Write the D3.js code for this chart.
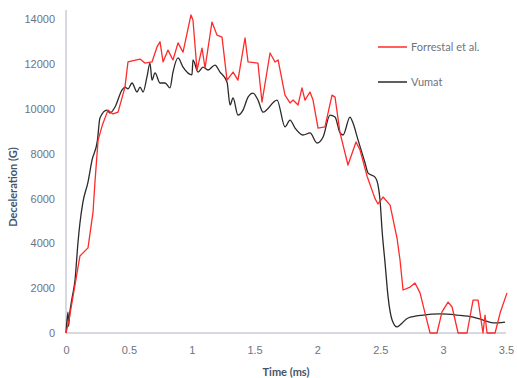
<!DOCTYPE html>
<html><head><meta charset="utf-8">
<script src="https://cdn.jsdelivr.net/npm/d3@7"></script>
<style>
html,body{margin:0;padding:0;background:#fff;}
svg{display:block;font-family:Lato,"Open Sans",sans-serif;}
</style></head>
<body><svg id="chart" width="517" height="378"></svg>
<script>
const seriesNames = ["Forrestal et al.", "Vumat"];
const seriesColors = ["#ff2a2a", "#2a2a2a"];
const xTicks = [0, 0.5, 1, 1.5, 2, 2.5, 3, 3.5];
const yTicks = [0, 2000, 4000, 6000, 8000, 10000, 12000, 14000];

const forrestalT = [0,0.024,0.111,0.175,0.215,0.231,0.255,0.29,0.334,0.374,0.414,0.469,0.493,0.589,0.628,0.684,0.724,0.748,0.772,0.811,0.851,0.891,0.931,0.994,1.010,1.042,1.082,1.106,1.161,1.201,1.241,1.281,1.329,1.368,1.424,1.448,1.527,1.543,1.559,1.623,1.663,1.687,1.742,1.782,1.806,1.846,1.877,1.901,1.941,1.965,2.005,2.060,2.116,2.140,2.180,2.243,2.307,2.339,2.395,2.458,2.482,2.522,2.578,2.633,2.657,2.681,2.737,2.776,2.816,2.856,2.896,2.951,2.991,3.039,3.071,3.119,3.190,3.238,3.278,3.317,3.333,3.349,3.413,3.453,3.508];
const forrestalV = [0,580,3440,3800,5400,6800,8600,9300,9950,9780,9860,10980,12100,12230,12050,12100,12770,13000,12100,12630,12190,12950,12540,14200,13970,11740,12720,11830,13880,13300,13210,11290,11650,11290,13170,12100,12050,11160,10310,12500,12100,12190,10620,10270,10400,10180,10940,10400,10760,10400,9150,9200,10620,10530,8930,7500,8530,8170,7000,6000,5760,6070,5710,4240,3260,1920,2050,2230,1790,890,0,0,940,1380,1160,0,0,1470,1470,0,800,0,0,890,1790];

const vumatT = [0,0.016,0.02,0.03,0.048,0.072,0.095,0.111,0.135,0.175,0.207,0.25,0.27,0.326,0.350,0.390,0.446,0.469,0.493,0.525,0.565,0.589,0.613,0.644,0.668,0.684,0.708,0.748,0.788,0.827,0.851,0.891,0.931,1.002,1.010,1.050,1.090,1.130,1.185,1.225,1.281,1.305,1.329,1.368,1.408,1.448,1.488,1.527,1.567,1.679,1.742,1.782,1.822,1.885,1.941,1.997,2.045,2.100,2.140,2.180,2.204,2.259,2.283,2.323,2.379,2.403,2.458,2.482,2.498,2.514,2.538,2.562,2.594,2.633,2.657,2.721,2.840,2.975,3.111,3.238,3.317,3.397,3.492];
const vumatV = [0,930,300,900,1560,2370,4020,4910,5850,6740,7720,8600,9600,9950,9820,10090,10850,10980,10900,11160,10760,10980,10760,11430,12050,11290,11610,11160,11160,10940,11650,12280,11870,11520,12190,11650,11870,11740,11960,11650,11200,10180,10490,9730,9950,10530,10710,10400,9860,10400,9200,9500,9150,8840,8930,8480,8750,9730,9640,8930,8840,9640,9370,8620,7590,7140,6960,6600,5940,4600,3120,1610,580,270,360,670,800,850,800,710,580,450,490];

const svg = d3.select("#chart");
const x = d3.scaleLinear().domain([0, 3.5]).range([66, 506]);
const y = d3.scaleLinear().domain([0, 14000]).range([333, 19.4]);

const axisColor = "#c8cbd8";
const tickColor = "#6f7380";
const labelColor = "#44546a";

// y axis
const yAxis = svg.append("g").attr("transform", "translate(66,0)")
  .call(d3.axisLeft(y).tickValues(yTicks).tickSize(0).tickPadding(11).tickFormat(d3.format("d")));
yAxis.select(".domain").remove();
yAxis.selectAll("text").attr("fill", tickColor).style("font-size", "11px");
svg.append("line").attr("x1", 66).attr("x2", 66).attr("y1", 10).attr("y2", 333)
  .attr("stroke", axisColor).attr("stroke-width", 1.5);

// x axis
const xAxis = svg.append("g").attr("transform", "translate(0,333)")
  .call(d3.axisBottom(x).tickValues(xTicks).tickSize(0).tickPadding(13).tickFormat(d3.format("")));
xAxis.select(".domain").remove();
xAxis.selectAll("text").attr("fill", tickColor).style("font-size", "11px");
svg.append("line").attr("x1", 66).attr("x2", 506).attr("y1", 333).attr("y2", 333)
  .attr("stroke", axisColor).attr("stroke-width", 1.5);

// axis titles
svg.append("text").attr("x", 286).attr("y", 376).attr("text-anchor", "middle")
  .attr("fill", labelColor).style("font-size", "11px").style("font-weight", "bold").text("Time (ms)");
svg.append("text").attr("transform", "translate(17,187) rotate(-90)").attr("text-anchor", "middle")
  .attr("fill", labelColor).style("font-size", "11px").style("font-weight", "bold").text("Deceleration  (G)");

const lineRed = d3.line().x(d => x(d[0])).y(d => y(d[1]));
const lineBlack = d3.line().x(d => x(d[0])).y(d => y(d[1])).curve(d3.curveMonotoneX);
const series = [
  d3.zip(forrestalT, forrestalV),
  d3.zip(vumatT, vumatV)
];
const gens = [lineRed, lineBlack];
[1, 0].forEach(i => {
  svg.append("path").datum(series[i]).attr("d", gens[i])
    .attr("fill", "none").attr("stroke", seriesColors[i]).attr("stroke-width", 1.3)
    .attr("stroke-linejoin", "round");
});

// legend
const legendY = [47, 82];
seriesNames.forEach((n, i) => {
  svg.append("line").attr("x1", 378).attr("x2", 407).attr("y1", legendY[i]).attr("y2", legendY[i])
    .attr("stroke", seriesColors[i]).attr("stroke-width", 1.5);
  svg.append("text").attr("x", 411).attr("y", legendY[i] + 4).attr("fill", tickColor)
    .style("font-size", "11px").text(n);
});
</script></body></html>
